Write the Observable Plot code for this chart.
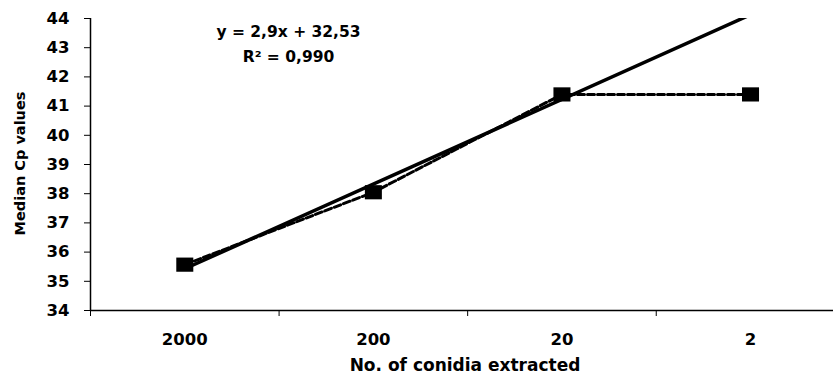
<!DOCTYPE html>
<html>
<head>
<meta charset="utf-8">
<script src="https://cdn.jsdelivr.net/npm/d3@7"></script>
<script src="https://cdn.jsdelivr.net/npm/@observablehq/plot@0.6"></script>
<style>
  html, body { margin: 0; padding: 0; background: #fff; overflow: hidden; }
  svg text { font-family: "DejaVu Sans", sans-serif; }
</style>
</head>
<body>
<div id="chart"></div>
<script>
const categories = ["2000", "200", "20", "2"];
const medianCp = [35.57, 38.05, 41.4, 41.4];
const yTicks = [34, 35, 36, 37, 38, 39, 40, 41, 42, 43, 44];
const trendSlope = 2.9;
const trendIntercept = 32.53;
const equationLines = ["y = 2,9x + 32,53", "R² = 0,990"];

const data = categories.map((c, i) => ({idx: i + 1, label: c, y: medianCp[i]}));
const boundaries = categories.map((c, i) => i + 0.5);
const trend = [1, categories.length].map(x => ({x, y: trendSlope * x + trendIntercept}));

const wideSquare = {
  draw(ctx, size) {
    const h = Math.sqrt(size) / 2;
    const w = h * 1.2;
    ctx.moveTo(-w, -h); ctx.lineTo(w, -h); ctx.lineTo(w, h); ctx.lineTo(-w, h); ctx.closePath();
  }
};

const chart = Plot.plot({
  width: 833,
  height: 378,
  marginTop: 18,
  marginBottom: 68,
  marginLeft: 90,
  marginRight: 0,
  style: {background: "#fff", color: "#000"},
  x: {type: "linear", domain: [0.5, 4.44], axis: null},
  y: {domain: [34, 44], axis: null},
  marks: [
    Plot.axisY({ticks: yTicks, tickSize: 6, tickPadding: 15, tickFormat: d => String(d), label: null,
      fontSize: 16.5, fontWeight: "bold"}),
    Plot.axisX({ticks: boundaries, tickSize: 6, tickFormat: () => "", anchor: "bottom", label: null}),
    Plot.axisX({ticks: data.map(d => d.idx), tickSize: 0, tickPadding: 23, label: null,
      tickFormat: i => categories[i - 1], fontSize: 16.5, fontWeight: "bold", anchor: "bottom"}),
    Plot.ruleY([34], {strokeWidth: 1.5}),
    Plot.ruleX([0.5], {y1: 34, y2: 44, strokeWidth: 1.5}),
    Plot.line(trend, {x: "x", y: "y", stroke: "#000", strokeWidth: 3.5, clip: true}),
    Plot.line(data, {x: "idx", y: "y", stroke: "#000", strokeWidth: 3, strokeDasharray: "7,3"}),
    Plot.dot(data, {x: "idx", y: "y", symbol: wideSquare, r: 8, fill: "#000", stroke: null}),
    Plot.text([equationLines.join("\n")], {frameAnchor: "top-left", dx: 198, dy: 1,
      lineAnchor: "top", lineHeight: 1.6, textAnchor: "middle", fontSize: 15.5, fontWeight: "bold"}),
    Plot.text(["Median Cp values"], {frameAnchor: "left", textAnchor: "middle", dx: -70, dy: -1, rotate: -90,
      fontSize: 14.5, fontWeight: "bold", fontFamily: "Liberation Sans"}),
    Plot.text(["No. of conidia extracted"], {frameAnchor: "bottom", textAnchor: "middle", dx: 3, dy: 60,
      fontSize: 17, fontWeight: "bold"})
  ]
});
document.getElementById("chart").appendChild(chart);
</script>
</body>
</html>
